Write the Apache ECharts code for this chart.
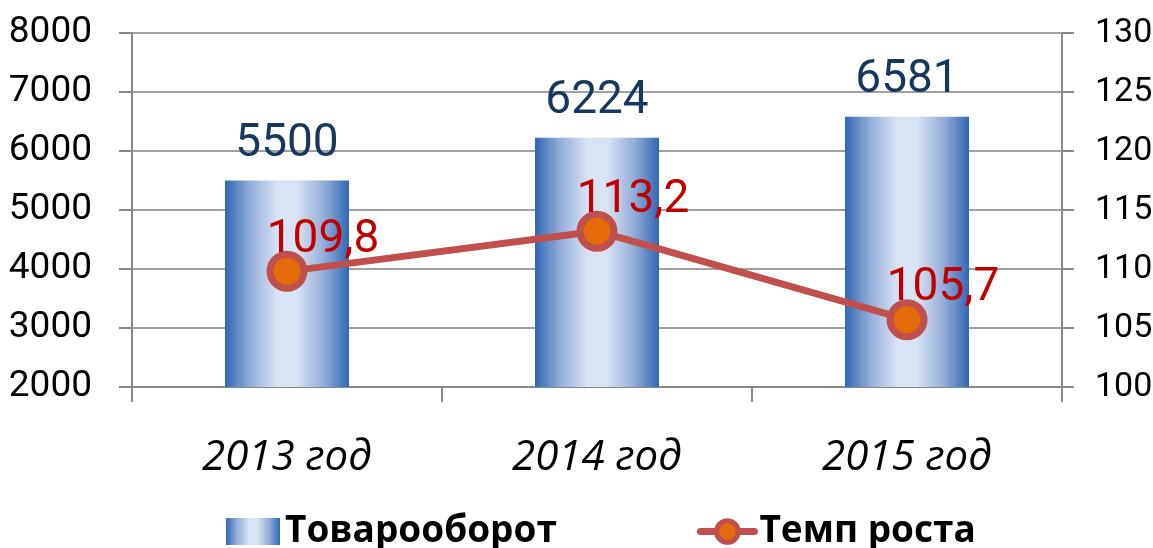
<!DOCTYPE html>
<html>
<head>
<meta charset="utf-8">
<script src="https://cdn.jsdelivr.net/npm/echarts@6/dist/echarts.min.js"></script>
<style>
  html, body { margin: 0; padding: 0; background: #fff; }
  #main { width: 1153px; height: 548px; }
</style>
</head>
<body>
<div id="main"></div>
<script>
// данные
const years = ["2013 год", "2014 год", "2015 год"];
const turnover = [5500, 6224, 6581];
const growth = [109.8, 113.2, 105.7];
const growthLabels = ["109,8", "113,2", "105,7"];

const myChart = echarts.init(document.getElementById("main"));

const barFill = new echarts.graphic.LinearGradient(0, 0, 1, 0, [
  { offset: 0, color: "#3068b5" },
  { offset: 0.2, color: "#93acd8" },
  { offset: 0.42, color: "#d8e3f3" },
  { offset: 0.58, color: "#d8e3f3" },
  { offset: 0.8, color: "#93acd8" },
  { offset: 1, color: "#3068b5" },
]);

const gray = "#a0a0a0";
const axisGray = "#888";

const option = {
  animation: false,
  grid: { left: 132, right: 91, top: 33, bottom: 161, outerBoundsMode: "none" },
  legend: {
    left: 221,
    top: 508,
    itemGap: 140,
    itemWidth: 54,
    itemHeight: 27,
    textStyle: {
      fontFamily: "Open Sans",
      fontWeight: "bold",
      fontSize: 37,
      color: "#000",
    },
    data: [
      { name: "Товарооборот", icon: "rect" },
      {
        name: "Темп роста",
        lineStyle: { width: 7, cap: "round" },
        itemStyle: { borderWidth: 5 },
      },
    ],
  },
  xAxis: {
    type: "category",
    data: years,
    axisLine: { lineStyle: { color: axisGray, width: 2 } },
    axisTick: { show: true, length: 15, lineStyle: { color: axisGray, width: 2 } },
    axisLabel: {
      margin: 50,
      fontFamily: "Open Sans",
      fontStyle: "italic",
      fontSize: 42,
      color: "#000",
    },
  },
  yAxis: [
    {
      type: "value",
      min: 2000,
      max: 8000,
      interval: 1000,
      axisLine: { show: true, lineStyle: { color: axisGray, width: 2 } },
      axisTick: { show: true, inside: false, length: 13, lineStyle: { color: axisGray, width: 2 } },
      axisLabel: {
        margin: 40,
        fontFamily: "Roboto",
        fontSize: 37,
        color: "#000",
        formatter: (v) => String(v),
      },
      splitLine: { lineStyle: { color: gray, width: 2 } },
    },
    {
      type: "value",
      min: 100,
      max: 130,
      interval: 5,
      axisLine: { show: true, lineStyle: { color: axisGray, width: 2 } },
      axisTick: { show: true, inside: false, length: 12, lineStyle: { color: axisGray, width: 2 } },
      axisLabel: { margin: 33, fontFamily: "Roboto", fontSize: 34, color: "#000" },
      splitLine: { show: false },
    },
  ],
  series: [
    {
      name: "Товарооборот",
      type: "bar",
      data: turnover,
      barWidth: "40%",
      itemStyle: { color: barFill },
      label: {
        show: true,
        position: "top",
        distance: 13,
        fontFamily: "Roboto",
        fontSize: 46,
        color: "#17375e",
      },
    },
    {
      name: "Темп роста",
      type: "line",
      yAxisIndex: 1,
      data: growth,
      symbol: "circle",
      symbolSize: 34,
      lineStyle: { color: "#c0504d", width: 7 },
      itemStyle: { color: "#e36c09", borderColor: "#c0504d", borderWidth: 7 },
      label: {
        show: true,
        position: "inside",
        offset: [36, -31],
        fontFamily: "Roboto",
        fontSize: 46,
        color: "#c00000",
        formatter: (p) => growthLabels[p.dataIndex],
      },
      z: 3,
    },
  ],
};

myChart.setOption(option);
</script>
</body>
</html>
